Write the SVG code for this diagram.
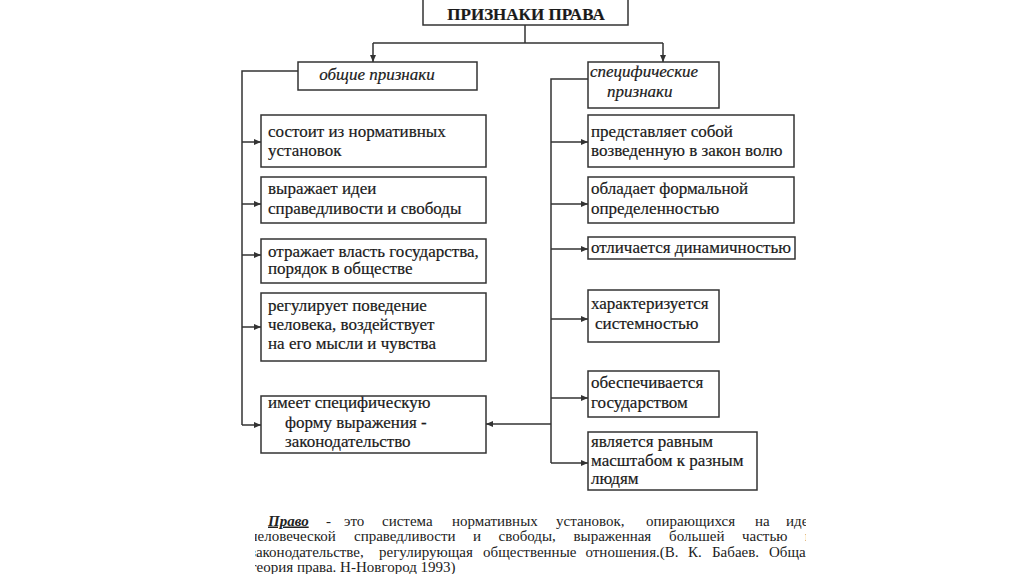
<svg xmlns="http://www.w3.org/2000/svg" width="1024" height="574" viewBox="0 0 1024 574">
<style>
.box{fill:#fff;stroke:#333;stroke-width:1.5}
.t{font-family:"Liberation Serif","Times New Roman",serif;font-size:17px;fill:#1a1a1a;stroke:#1a1a1a;stroke-width:0.2}
.it{font-style:italic}
.ln{stroke:#333;stroke-width:1.5;fill:none}
.p{font-family:"Liberation Serif","Times New Roman",serif;font-size:15px;fill:#222}
</style>
<defs>
<marker id="ah" markerUnits="userSpaceOnUse" markerWidth="7" markerHeight="6" refX="7" refY="3" orient="auto">
<path d="M0,0 L7,3 L0,6 z" fill="#333"/>
</marker>
<clipPath id="pc"><rect x="255" y="500" width="551" height="74"/></clipPath>
</defs>
<rect width="1024" height="574" fill="#fff"/>

<g id="connectors">
<path class="ln" d="M525,25 V43 M373,43 H663"/>
<path class="ln" d="M373,43 V62" marker-end="url(#ah)"/>
<path class="ln" d="M663,43 V62" marker-end="url(#ah)"/>
<path class="ln" d="M298,71 H242 V425"/>
<path class="ln" d="M242,142 H261" marker-end="url(#ah)"/>
<path class="ln" d="M242,204 H261" marker-end="url(#ah)"/>
<path class="ln" d="M242,255 H261" marker-end="url(#ah)"/>
<path class="ln" d="M242,327 H261" marker-end="url(#ah)"/>
<path class="ln" d="M242,425 H261" marker-end="url(#ah)"/>
<path class="ln" d="M588,79 H551 V463"/>
<path class="ln" d="M551,142 H588" marker-end="url(#ah)"/>
<path class="ln" d="M551,204 H588" marker-end="url(#ah)"/>
<path class="ln" d="M551,249 H588" marker-end="url(#ah)"/>
<path class="ln" d="M551,319 H588" marker-end="url(#ah)"/>
<path class="ln" d="M551,398 H588" marker-end="url(#ah)"/>
<path class="ln" d="M551,463 H588" marker-end="url(#ah)"/>
<path class="ln" d="M551,424 H486" marker-end="url(#ah)"/>
</g>

<g id="title">
<rect class="box" x="423" y="-2" width="205" height="27"/>
<text class="t" x="526" y="20" text-anchor="middle" font-weight="bold">ПРИЗНАКИ ПРАВА</text>
</g>
<g id="general">
<rect class="box" x="298" y="62" width="179" height="28"/>
<text class="t it" x="377" y="80" text-anchor="middle">общие признаки</text>
</g>
<g id="specific">
<rect class="box" x="588" y="62" width="131" height="46"/>
<text class="t it" x="590" y="77">специфические</text>
<text class="t it" x="607" y="97">признаки</text>
</g>

<g id="l1">
<rect class="box" x="261" y="115" width="225" height="52"/>
<text class="t" x="268" y="137">состоит из нормативных</text>
<text class="t" x="268" y="156">установок</text>
</g>
<g id="l2">
<rect class="box" x="261" y="177" width="225" height="46"/>
<text class="t" x="268" y="194">выражает идеи</text>
<text class="t" x="268" y="214">справедливости и свободы</text>
</g>
<g id="l3">
<rect class="box" x="261" y="239" width="225" height="44"/>
<text class="t" x="268" y="257">отражает власть государства,</text>
<text class="t" x="268" y="274">порядок в обществе</text>
</g>
<g id="l4">
<rect class="box" x="261" y="293" width="225" height="68"/>
<text class="t" x="268" y="311">регулирует поведение</text>
<text class="t" x="268" y="330">человека, воздействует</text>
<text class="t" x="268" y="349">на его мысли и чувства</text>
</g>
<g id="l5">
<rect class="box" x="261" y="396" width="225" height="57"/>
<text class="t" x="268" y="408">имеет специфическую</text>
<text class="t" x="285" y="428">форму выражения -</text>
<text class="t" x="285" y="447">законодательство</text>
</g>

<g id="r1">
<rect class="box" x="588" y="115" width="206" height="52"/>
<text class="t" x="591" y="137">представляет собой</text>
<text class="t" x="591" y="156">возведенную в закон волю</text>
</g>
<g id="r2">
<rect class="box" x="588" y="177" width="206" height="46"/>
<text class="t" x="591" y="194">обладает формальной</text>
<text class="t" x="591" y="214">определенностью</text>
</g>
<g id="r3">
<rect class="box" x="588" y="237" width="207" height="22"/>
<text class="t" x="591" y="253">отличается динамичностью</text>
</g>
<g id="r4">
<rect class="box" x="588" y="290" width="131" height="52"/>
<text class="t" x="591" y="309">характеризуется</text>
<text class="t" x="595" y="329">системностью</text>
</g>
<g id="r5">
<rect class="box" x="588" y="371" width="131" height="46"/>
<text class="t" x="591" y="388">обеспечивается</text>
<text class="t" x="591" y="408">государством</text>
</g>
<g id="r6">
<rect class="box" x="588" y="432" width="169" height="58"/>
<text class="t" x="591" y="447">является равным</text>
<text class="t" x="591" y="466">масштабом к разным</text>
<text class="t" x="591" y="484">людям</text>
</g>

<g id="definition" clip-path="url(#pc)">
<text class="p" y="525.5"><tspan x="268" font-weight="bold" font-style="italic" text-decoration="underline">Право</tspan><tspan x="326">-</tspan><tspan x="344">это</tspan><tspan x="382">система</tspan><tspan x="452">нормативных</tspan><tspan x="556">установок,</tspan><tspan x="646">опирающихся</tspan><tspan x="755">на</tspan><tspan x="786">идеи</tspan></text>
<text class="p" y="541"><tspan x="250">человеческой</tspan><tspan x="354">справедливости</tspan><tspan x="473">и</tspan><tspan x="498.5">свободы,</tspan><tspan x="573.5">выраженная</tspan><tspan x="669">большей</tspan><tspan x="742">частью</tspan><tspan x="805">в</tspan></text>
<text class="p" y="556.5"><tspan x="250">законодательстве,</tspan><tspan x="379">регулирующая</tspan><tspan x="483">общественные</tspan><tspan x="585.5">отношения.(В.</tspan><tspan x="688">К.</tspan><tspan x="712">Бабаев.</tspan><tspan x="769">Общая</tspan></text>
<text class="p" x="250" y="572">теория права. Н-Новгород 1993)</text>
</g>
</svg>
